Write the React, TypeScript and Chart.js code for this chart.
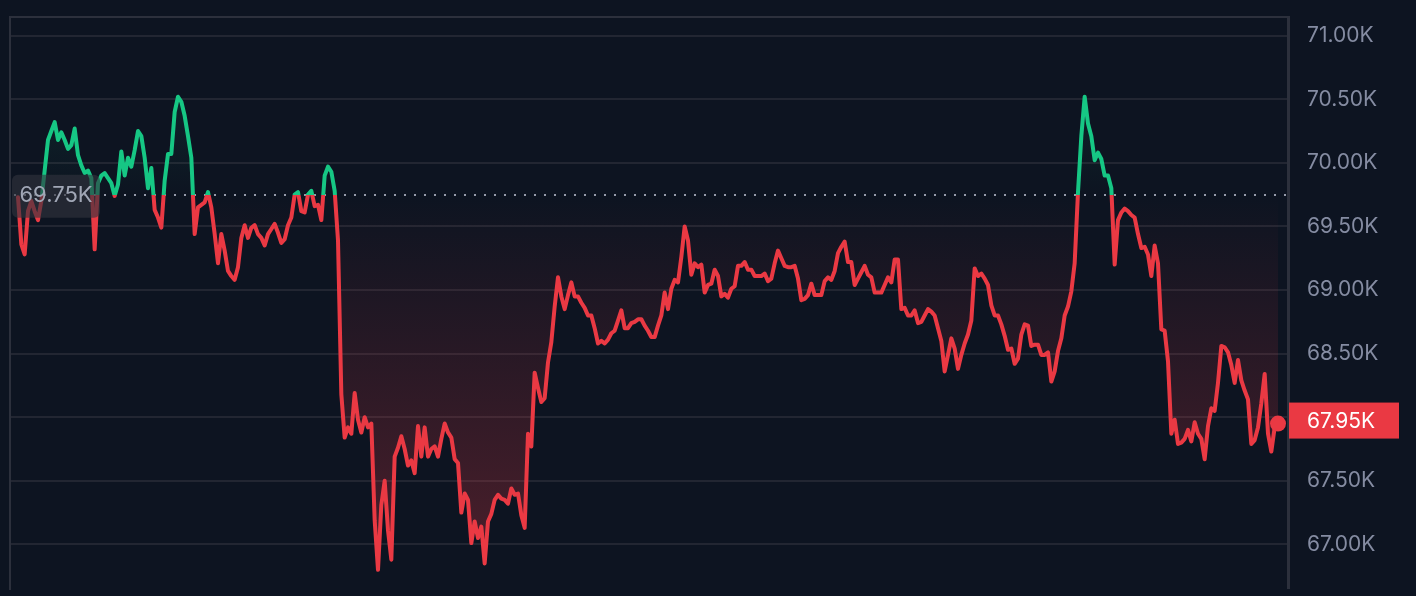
import { useEffect, useRef } from "react";
import { Chart, registerables } from "chart.js";

Chart.register(...registerables);

const BASELINE = 69.75;
const Y_TICKS = [67, 67.5, 68, 68.5, 69, 69.5, 70, 70.5, 71];
const Y_MIN = 66.657;
const Y_MAX = 71.147;

const prices = [
  69.73, 69.36, 69.28, 69.62, 69.70, 69.62, 69.55, 69.70, 69.94, 70.18,
  70.25, 70.32, 70.18, 70.24, 70.18, 70.11, 70.14, 70.27, 70.06, 69.98,
  69.92, 69.94, 69.88, 69.32, 69.84, 69.90, 69.92, 69.88, 69.84, 69.74,
  69.83, 70.09, 69.90, 70.04, 69.97, 70.10, 70.25, 70.21, 70.04, 69.80,
  69.96, 69.63, 69.57, 69.49, 69.86, 70.07, 70.07, 70.40, 70.52, 70.48,
  70.37, 70.21, 70.04, 69.44, 69.65, 69.67, 69.69, 69.77, 69.65, 69.44,
  69.21, 69.44, 69.31, 69.15, 69.11, 69.08, 69.18, 69.41, 69.51, 69.41,
  69.49, 69.51, 69.44, 69.41, 69.35, 69.44, 69.48, 69.52, 69.45, 69.37,
  69.40, 69.51, 69.57, 69.75, 69.77, 69.62, 69.61, 69.75, 69.78, 69.66,
  69.67, 69.55, 69.90, 69.97, 69.93, 69.78, 69.39, 68.18, 67.84, 67.92,
  67.87, 68.19, 67.98, 67.88, 68.00, 67.92, 67.95, 67.19, 66.80, 67.31,
  67.50, 67.11, 66.88, 67.69, 67.76, 67.85, 67.75, 67.62, 67.66, 67.56,
  67.93, 67.69, 67.92, 67.69, 67.75, 67.77, 67.69, 67.83, 67.95, 67.88,
  67.84, 67.67, 67.64, 67.25, 67.40, 67.35, 67.01, 67.18, 67.05, 67.14,
  66.85, 67.18, 67.24, 67.35, 67.39, 67.36, 67.35, 67.32, 67.44, 67.39,
  67.40, 67.23, 67.13, 67.87, 67.77, 68.35, 68.23, 68.12, 68.15, 68.43,
  68.59, 68.87, 69.10, 68.95, 68.85, 68.96, 69.06, 68.95, 68.95, 68.90,
  68.86, 68.80, 68.80, 68.70, 68.58, 68.60, 68.58, 68.61, 68.66, 68.68,
  68.76, 68.84, 68.70, 68.70, 68.74, 68.75, 68.77, 68.77, 68.72, 68.68,
  68.63, 68.63, 68.72, 68.80, 68.98, 68.85, 69.01, 69.08, 69.06, 69.26,
  69.50, 69.39, 69.12, 69.21, 69.18, 69.20, 68.98, 69.04, 69.05, 69.16,
  69.11, 68.95, 68.97, 68.94, 69.01, 69.03, 69.19, 69.19, 69.22, 69.16,
  69.16, 69.11, 69.11, 69.11, 69.13, 69.07, 69.09, 69.21, 69.31, 69.25,
  69.19, 69.18, 69.18, 69.19, 69.09, 68.92, 68.93, 68.96, 69.05, 68.96,
  68.96, 68.96, 69.07, 69.10, 69.08, 69.15, 69.29, 69.34, 69.38, 69.22,
  69.22, 69.04, 69.09, 69.14, 69.19, 69.12, 69.10, 68.98, 68.98, 68.98,
  69.04, 69.10, 69.06, 69.24, 69.24, 68.85, 68.86, 68.80, 68.80, 68.84,
  68.74, 68.75, 68.80, 68.85, 68.83, 68.80, 68.70, 68.60, 68.36, 68.49,
  68.62, 68.54, 68.38, 68.49, 68.58, 68.65, 68.76, 69.17, 69.11, 69.13,
  69.09, 69.04, 68.88, 68.80, 68.80, 68.73, 68.64, 68.53, 68.54, 68.42,
  68.46, 68.65, 68.73, 68.72, 68.56, 68.57, 68.57, 68.49, 68.49, 68.51,
  68.28, 68.36, 68.52, 68.62, 68.80, 68.87, 68.99, 69.21, 69.77, 70.21,
  70.52, 70.31, 70.21, 70.02, 70.08, 70.03, 69.90, 69.90, 69.80, 69.20,
  69.55, 69.61, 69.64, 69.62, 69.59, 69.57, 69.44, 69.33, 69.34, 69.28,
  69.11, 69.35, 69.21, 68.69, 68.68, 68.44, 67.87, 67.98, 67.79, 67.80,
  67.83, 67.90, 67.81, 67.96, 67.87, 67.83, 67.67, 67.93, 68.07, 68.05,
  68.27, 68.56, 68.55, 68.51, 68.41, 68.27, 68.45, 68.29, 68.21, 68.14,
  67.79, 67.82, 67.92, 68.11, 68.34, 67.87, 67.73, 67.92, 67.95,
];
const labels = prices.map((_, i) => i);

const GREEN = "#16c784";
const RED = "#ea3943";
const BG = "#0d1421";
const GRID = "#222632";
const BORDER = "#2c303c";
const TEXT = "#858ca2";
const FONT = "Inter, 'Noto Sans', sans-serif";
const W = 1416;
const H = 596;
const LINE_W = 4;

const fmtK = (v: number) => v.toFixed(2) + "K";

const decorPlugin = {
  id: "decor",
  beforeDraw(chart: any) {
    const { ctx } = chart;
    ctx.save();
    ctx.fillStyle = BG;
    ctx.fillRect(0, 0, chart.width, chart.height);
    ctx.restore();
  },
  beforeDatasetsDraw(chart: any) {
    const { ctx, chartArea, scales } = chart;
    ctx.save();
    ctx.strokeStyle = BORDER;
    ctx.lineWidth = 2;
    ctx.beginPath();
    ctx.moveTo(chartArea.left, chartArea.bottom + 2);
    ctx.lineTo(chartArea.left, chartArea.top);
    ctx.lineTo(chartArea.right, chartArea.top);
    ctx.stroke();
    const yb = Math.round(scales.y.getPixelForValue(BASELINE));
    ctx.strokeStyle = "rgba(165,170,185,0.9)";
    ctx.lineWidth = 2;
    ctx.setLineDash([2, 8]);
    ctx.beginPath();
    ctx.moveTo(chartArea.left + 4, yb);
    ctx.lineTo(chartArea.right, yb);
    ctx.stroke();
    ctx.restore();
  },
  afterDatasetsDraw(chart: any) {
    const { ctx, chartArea, scales } = chart;
    const yb = scales.y.getPixelForValue(BASELINE);
    ctx.save();
    ctx.fillStyle = "rgba(50,52,62,0.62)";
    ctx.beginPath();
    ctx.roundRect(chartArea.left + 2, yb - 20, 88, 43, 6);
    ctx.fill();
    ctx.fillStyle = "#a1a7b6";
    ctx.font = `22px ${FONT}`;
    ctx.textAlign = "center";
    ctx.textBaseline = "middle";
    ctx.fillText(fmtK(BASELINE), chartArea.left + 46, yb + 1);
    ctx.restore();
  },
  afterDraw(chart: any) {
    const { ctx, chartArea, scales } = chart;
    const last = prices[prices.length - 1];
    const yl = scales.y.getPixelForValue(last);
    ctx.save();
    ctx.fillStyle = last < BASELINE ? RED : GREEN;
    ctx.fillRect(chartArea.right + 1, yl - 21, 110, 36);
    ctx.fillStyle = "#ffffff";
    ctx.font = `21px ${FONT}`;
    ctx.textAlign = "left";
    ctx.textBaseline = "middle";
    ctx.fillText(fmtK(last), chartArea.right + 19, yl - 2);
    ctx.restore();
  },
};

export default function App() {
  const ref = useRef<HTMLCanvasElement | null>(null);

  useEffect(() => {
    document.body.style.margin = "0";
    document.body.style.background = BG;
    const canvas = ref.current;
    if (!canvas) return;
    const lastIdx = prices.length - 1;
    const chart = new Chart(canvas, {
      type: "line",
      data: {
        labels,
        datasets: [
          {
            data: prices,
            borderColor: RED,
            borderWidth: LINE_W,
            borderJoinStyle: "round",
            borderCapStyle: "round",
            tension: 0,
            pointRadius: (c: any) => (c.dataIndex === lastIdx ? 8 : 0),
            pointHoverRadius: 0,
            pointBorderWidth: 0,
            pointBackgroundColor: (c: any) =>
              prices[c.dataIndex] < BASELINE ? RED : GREEN,
            fill: {
              target: { value: BASELINE },
              above: "rgba(22,199,132,0.08)",
              below: "rgba(234,57,67,0.12)",
            },
          } as any,
        ],
      },
      options: {
        responsive: false,
        animation: false,
        events: [],
        elements: { line: { borderWidth: LINE_W } },
        layout: { padding: { left: 10, top: 17, right: 0, bottom: 0 } },
        plugins: { legend: { display: false }, tooltip: { enabled: false } },
        scales: {
          x: {
            type: "linear",
            display: false,
            min: -2.4,
            max: 381,
          },
          y: {
            type: "linear",
            position: "right",
            min: Y_MIN,
            max: Y_MAX,
            afterBuildTicks: (s: any) => {
              s.ticks = Y_TICKS.map((v) => ({ value: v }));
            },
            afterFit: (s: any) => {
              s.width = 128;
              s.paddingTop = 0;
              s.paddingBottom = 0;
            },
            grid: { color: GRID, lineWidth: 2, drawTicks: false },
            border: { display: true, color: BORDER, width: 3 },
            ticks: {
              color: TEXT,
              padding: 19,
              font: { family: FONT, size: 21 },
              callback: (v: any) => fmtK(Number(v)),
            },
          },
        },
      },
      plugins: [decorPlugin],
    });

    const area = chart.chartArea;
    const yb = chart.scales.y.getPixelForValue(BASELINE);
    const c2d = canvas.getContext("2d") as CanvasRenderingContext2D;
    const t = (yb - area.top) / (area.bottom - area.top);
    const stroke = c2d.createLinearGradient(0, area.top, 0, area.bottom);
    stroke.addColorStop(0, GREEN);
    stroke.addColorStop(t, GREEN);
    stroke.addColorStop(t, RED);
    stroke.addColorStop(1, RED);
    const fillUp = c2d.createLinearGradient(0, area.top, 0, yb);
    fillUp.addColorStop(0, "rgba(22,199,132,0.16)");
    fillUp.addColorStop(1, "rgba(22,199,132,0.0)");
    const fillDown = c2d.createLinearGradient(0, yb, 0, area.bottom);
    fillDown.addColorStop(0, "rgba(234,57,67,0.0)");
    fillDown.addColorStop(1, "rgba(234,57,67,0.30)");
    const ds: any = chart.data.datasets[0];
    ds.borderColor = stroke;
    ds.borderWidth = LINE_W;
    ds.fill = { target: { value: BASELINE }, above: fillUp, below: fillDown };
    chart.update("none");

    return () => chart.destroy();
  }, []);

  return (
    <div style={{ width: W, height: H, background: BG }}>
      <canvas ref={ref} width={W} height={H} style={{ display: "block", width: W, height: H }} />
    </div>
  );
}
